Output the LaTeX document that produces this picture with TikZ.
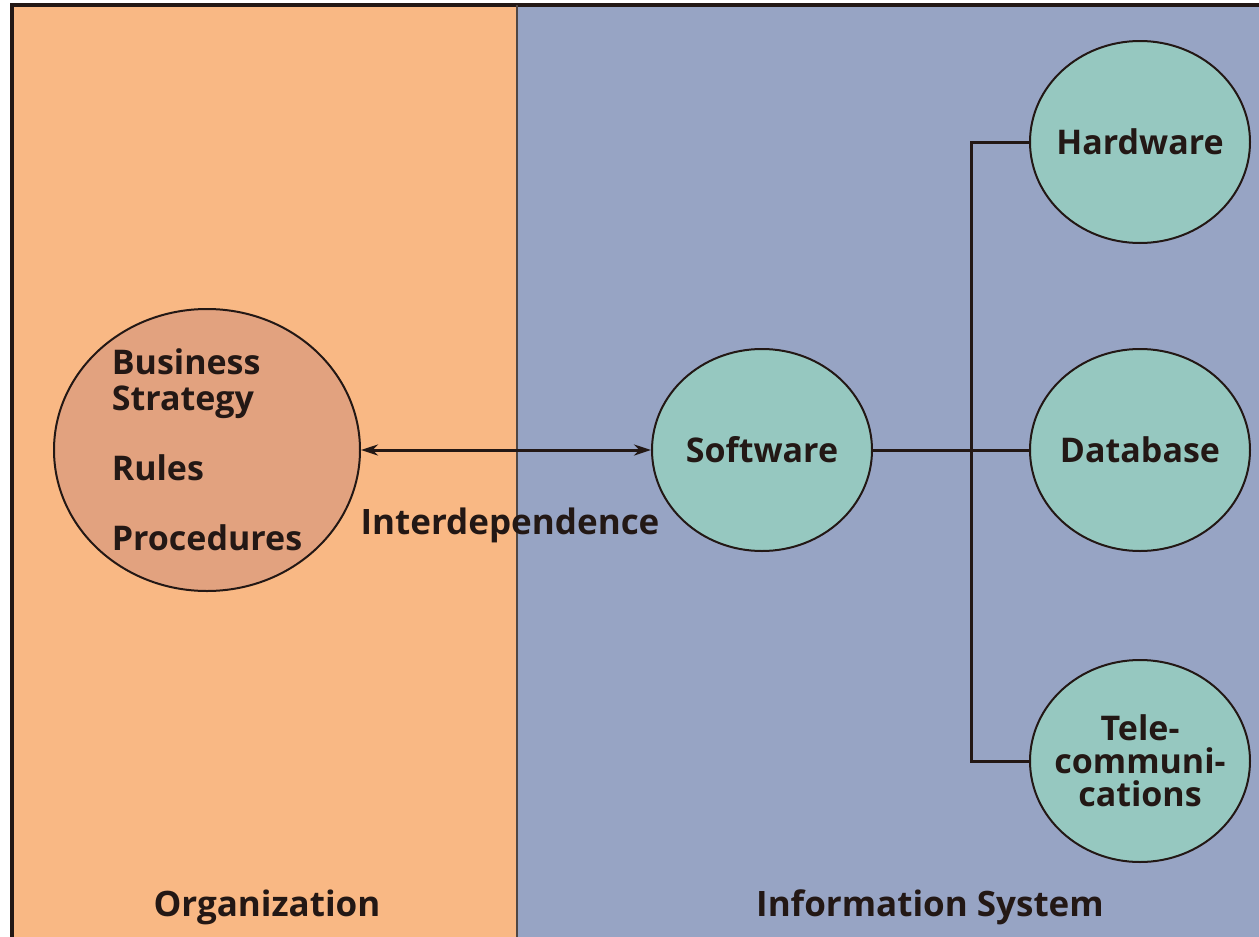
\documentclass[tikz,border=0pt]{standalone}
\usepackage{fontspec}
\setmainfont{Open Sans}
\usetikzlibrary{shapes.geometric,arrows.meta}
\definecolor{orgfill}{HTML}{F9B884}
\definecolor{isfill}{HTML}{97A4C4}
\definecolor{orgball}{HTML}{E2A27F}
\definecolor{isball}{HTML}{96C8C0}
\definecolor{ink}{HTML}{231815}
\tikzset{ball/.style={draw=ink,line width=2pt,shape=ellipse,minimum width=220pt,minimum height=202pt,inner sep=-14pt,fill=isball,align=center,font=\bfseries\fontsize{34}{33}\selectfont,text=ink},
	lbl/.style={font=\bfseries\fontsize{35}{36}\selectfont,text=ink,inner sep=0pt},
	wire/.style={draw=ink,line width=3pt}}

\begin{document}
\begin{tikzpicture}[x=1pt, y=-1pt]
	\useasboundingbox (0,0) rectangle (1259,937);
	\fill [orgfill] (12,5) rectangle (517,945);
	\fill [isfill] (517,5) rectangle (1265,945);
	\draw [ink, line width=3.5pt] (12,945) -- (12,5) -- (1265,5);
	\draw [ink!80, line width=2pt] (517,5) -- (517,945);

	\node [ball, fill=orgball, minimum width=306pt, minimum height=282pt, align=left, font=\bfseries\fontsize{34}{36}\selectfont] (org) at (207,450)
		{Business\\Strategy\\[34pt]Rules\\[34pt]Procedures};
	\node [ball] (sw) at (762,450) {Software};
	\node [ball] (hw) at (1140,142) {Hardware};
	\node [ball] (db) at (1140,450) {Database};
	\node [ball] (tc) at (1140,761) {Tele-\\communi-\\cations};

	\draw [wire, {Stealth[length=17pt,width=11pt]}-{Stealth[length=17pt,width=11pt]}] (org) -- (sw);
	\draw [wire] (sw) -- (db);
	\draw [wire] (hw.west) -- ++(-58,0) |- (tc.west);

	\node [lbl] (dep) at (510,525) {Interdependence};
	\node [lbl] (orgname) at (267,907) {Organization};
	\node [lbl] (isname) at (930,907) {Information System};
\end{tikzpicture}
\end{document}
